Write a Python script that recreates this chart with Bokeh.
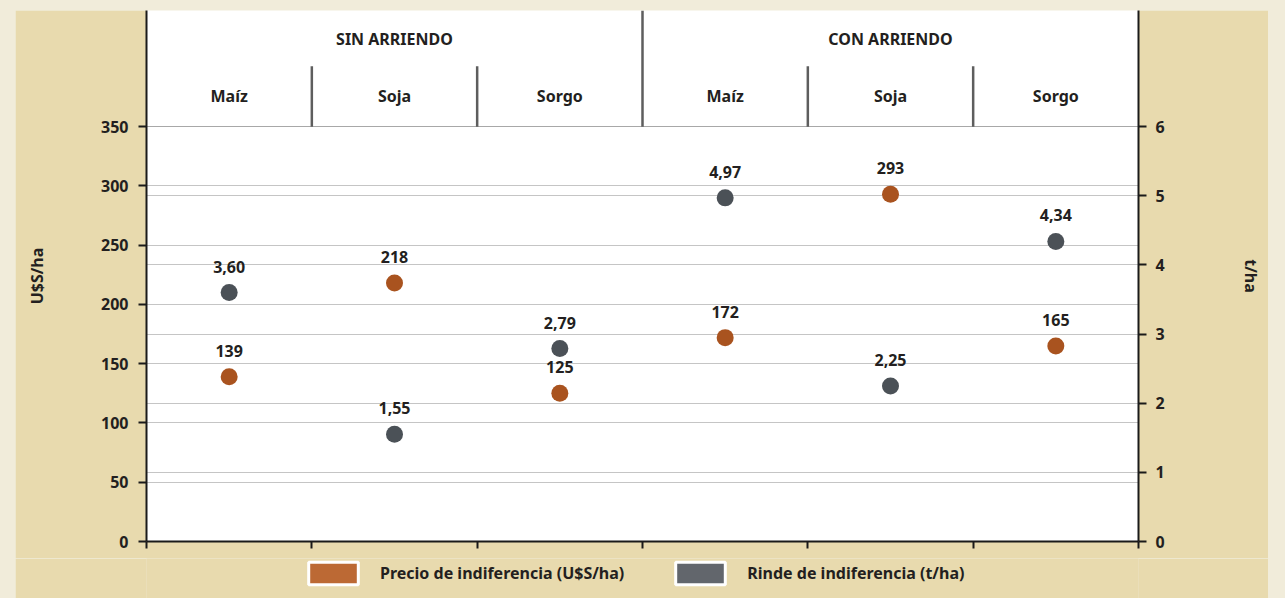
from bokeh.plotting import figure
from bokeh.layouts import column
from bokeh.models import Range1d, LinearAxis, FixedTicker, Grid, Legend, LegendItem, CustomJSTickFormatter
from bokeh.core.properties import value
from bokeh.embed import file_html
from bokeh.resources import INLINE

# ---------------- data ----------------
grupos = ["SIN ARRIENDO", "CON ARRIENDO"]
cultivos = ["Maíz", "Soja", "Sorgo"]
precio = [139, 218, 125, 172, 293, 165]          # Precio de indiferencia (U$S/ha)
rinde = [3.60, 1.55, 2.79, 4.97, 2.25, 4.34]     # Rinde de indiferencia (t/ha)
left_ticks = [0, 50, 100, 150, 200, 250, 300, 350]
right_ticks = [0, 1, 2, 3, 4, 5, 6]
serie_precio = "Precio de indiferencia (U$S/ha)"
serie_rinde = "Rinde de indiferencia (t/ha)"

# ---------------- style ----------------
FONT = "Noto Sans"
FS = "16px"
TXT = "#231F20"
ORANGE = "#A9531F"
GRAY = "#4B5157"
ORANGE_SW = "#BC6934"
GRAY_SW = "#62666C"
TAN = "#E8DAAE"
PAGE_BG = "#F1ECDA"

n_cat = len(grupos) * len(cultivos)
xs = [i + 0.5 for i in range(n_cat)]
cat_labels = [c for g in grupos for c in cultivos]

LEFT_MAX = 448.0
RIGHT_MAX = LEFT_MAX / left_ticks[-1] * right_ticks[-1]

p = figure(frame_width=992, frame_height=531,
           x_range=Range1d(0, n_cat), y_range=Range1d(0, LEFT_MAX),
           output_backend="svg", toolbar_location=None,
           min_border_left=131, min_border_right=130,
           min_border_top=0, min_border_bottom=17)
p.extra_y_ranges = {"right": Range1d(0, RIGHT_MAX)}
p.background_fill_color = "white"
p.border_fill_color = TAN
p.outline_line_color = None

# axes
def style_axis(ax):
    ax.axis_line_color = "#1A1A1A"
    ax.axis_line_width = 2
    ax.major_tick_line_color = "#1A1A1A"
    ax.major_tick_line_width = 2
    ax.major_tick_in = 0
    ax.major_tick_out = 8
    ax.minor_tick_line_color = None
    ax.major_label_text_font = FONT
    ax.major_label_text_font_style = "bold"
    ax.major_label_text_font_size = FS
    ax.major_label_text_color = TXT
    ax.axis_label_text_font = FONT
    ax.axis_label_text_font_style = "bold"
    ax.axis_label_text_font_size = FS
    ax.axis_label_text_color = TXT

ly = p.yaxis[0]
style_axis(ly)
ly.ticker = FixedTicker(ticks=left_ticks)
ly.axis_label = "U$S/ha"
ly.major_label_standoff = 10
ly.axis_label_standoff = 50

ry = LinearAxis(y_range_name="right", ticker=FixedTicker(ticks=right_ticks))
style_axis(ry)
ry.axis_label = "t/ha"
ry.major_label_standoff = 9
ry.axis_label_standoff = 72
p.add_layout(ry, "right")

bx = p.xaxis[0]
style_axis(bx)
bx.ticker = FixedTicker(ticks=list(range(n_cat + 1)))
bx.major_tick_out = 7
bx.formatter = CustomJSTickFormatter(code="return ''")
bx.major_label_standoff = 0
bx.axis_label_standoff = 0

# grids
p.xgrid.visible = False
p.ygrid.ticker = FixedTicker(ticks=left_ticks)
p.ygrid.grid_line_color = "#8A8A8A"
p.ygrid.grid_line_dash = "1 1"
p.ygrid.grid_line_width = 1
rgrid = Grid(dimension=1, y_range_name="right", ticker=FixedTicker(ticks=right_ticks),
             grid_line_color="#8A8A8A", grid_line_dash="1 1", grid_line_width=1)
p.add_layout(rgrid)

# header separators and labels
HDR_TOP = LEFT_MAX
HDR_BASE = left_ticks[-1]
HDR_MID = 401
p.segment(x0=[1, 2, 4, 5], y0=[HDR_BASE] * 4, x1=[1, 2, 4, 5], y1=[HDR_MID] * 4,
          line_color="#5E5E5E", line_width=2.5)
p.segment(x0=[3], y0=[HDR_BASE], x1=[3], y1=[HDR_TOP],
          line_color="#5E5E5E", line_width=2.5)
p.text(x=[1.5, 4.5], y=[424, 424], text=grupos, text_align="center",
       text_baseline="middle", text_font=value(FONT), text_font_style="bold",
       text_font_size=FS, text_color=TXT)
p.text(x=xs, y=[376] * n_cat, text=cat_labels, text_align="center",
       text_baseline="middle", text_font=value(FONT), text_font_style="bold",
       text_font_size=FS, text_color=TXT)

# points
p.scatter(x=xs, y=precio, size=17, fill_color=ORANGE, line_color=None)
p.scatter(x=xs, y=rinde, size=17, fill_color=GRAY, line_color=None, y_range_name="right")

p.text(x=xs, y=precio, text=[str(v) for v in precio], text_align="center",
       text_baseline="alphabetic", y_offset=-26, text_font=value(FONT),
       text_font_style="bold", text_font_size=FS, text_color=TXT)
p.text(x=xs, y=rinde, text=[f"{v:.2f}".replace(".", ",") for v in rinde],
       y_range_name="right", text_align="center",
       text_baseline="alphabetic", y_offset=-26, text_font=value(FONT),
       text_font_style="bold", text_font_size=FS, text_color=TXT)

# ---------------- legend strip (separate figure below) ----------------
lf = figure(width=1253, height=40, x_range=Range1d(0, 1), y_range=Range1d(0, 1),
            x_axis_type=None, y_axis_type=None, output_backend="svg",
            toolbar_location=None, min_border=0)
lf.background_fill_color = TAN
lf.border_fill_color = TAN
lf.outline_line_color = None
lf.grid.visible = False
# legend proxies: one point each, kept outside the visible range
r_o = lf.rect(x=[-5], y=[-5], width=0.1, height=0.1, fill_color=ORANGE_SW,
              line_color="white", line_width=3)
r_g = lf.rect(x=[-5], y=[-5], width=0.1, height=0.1, fill_color=GRAY_SW,
              line_color="white", line_width=3)
legend = Legend(items=[LegendItem(label=serie_precio, renderers=[r_o]),
                       LegendItem(label=serie_rinde, renderers=[r_g])],
                orientation="horizontal", location=(156, 11),
                glyph_width=62, glyph_height=28, label_standoff=16, spacing=45,
                padding=0, margin=0, background_fill_alpha=0, border_line_color=None,
                label_text_font=FONT, label_text_font_style="bold",
                label_text_font_size=FS, label_text_color=TXT)
lf.add_layout(legend)

layout = column(p, lf, spacing=0)

html = file_html(layout, INLINE)
style = ("<style>html, body { margin:0 !important; background-color:%s !important; } "
         "body { padding: 10px 0 0 15px !important; }</style></head>" % PAGE_BG)
html = html.replace("</head>", style, 1)
open("out.html", "w").write(html)
